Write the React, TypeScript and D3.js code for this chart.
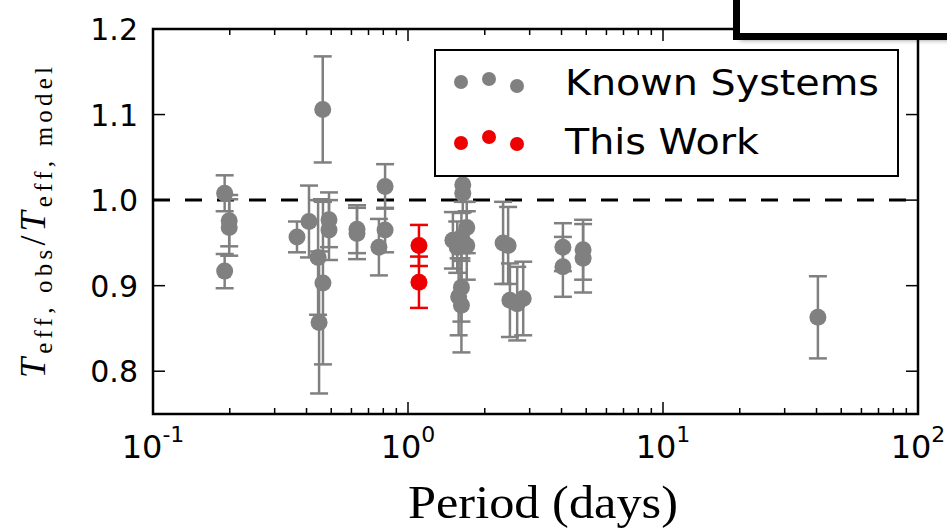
import React from "react";
import * as d3 from "d3";

const width = 947;
const height = 528;
const margin = { top: 29, right: 29, bottom: 114, left: 153 };

// known systems: period (days), ratio, error
const knownPeriod = [
  0.191, 0.199, 0.199, 0.191, 0.367, 0.409, 0.444, 0.448, 0.464, 0.463, 0.49, 0.49,
  0.631, 0.631, 0.769, 0.813, 0.813, 1.64, 1.64, 1.7, 1.5, 1.7, 1.56, 1.62, 1.62,
  1.58, 1.62, 2.36, 2.47, 2.51, 2.68, 2.83, 4.05, 4.05, 4.86, 4.86, 40.5,
];
const knownRatio = [
  1.008, 0.976, 0.968, 0.917, 0.957, 0.975, 0.933, 0.857, 0.903, 1.106, 0.977, 0.965,
  0.966, 0.961, 0.945, 0.965, 1.016, 1.018, 1.008, 0.968, 0.953, 0.947, 0.945, 0.957,
  0.898, 0.887, 0.877, 0.95, 0.947, 0.883, 0.879, 0.885, 0.945, 0.922, 0.942, 0.932,
  0.863,
];
const knownErr = [
  0.021, 0.03, 0.033, 0.02, 0.018, 0.042, 0.067, 0.083, 0.095, 0.062, 0.032, 0.035,
  0.028, 0.03, 0.033, 0.026, 0.026, 0.02, 0.022, 0.03, 0.033, 0.04, 0.03, 0.028,
  0.04, 0.045, 0.055, 0.048, 0.045, 0.043, 0.043, 0.043, 0.028, 0.035, 0.035, 0.04,
  0.048,
];

// this work
const workPeriod = [1.104, 1.104];
const workRatio = [0.947, 0.904];
const workErr = [0.024, 0.03];

const yTicks = [0.8, 0.9, 1.0, 1.1, 1.2];
const yTickLabels = ["0.8", "0.9", "1.0", "1.1", "1.2"];
const xTicks = [0.1, 1, 10, 100];
const xTickExp = ["-1", "0", "1", "2"];

const xScale = d3.scaleLog().domain([0.1, 100]).range([margin.left, width - margin.right]);
const yScale = d3.scaleLinear().domain([0.75, 1.2]).range([height - margin.bottom, margin.top]);

const gray = "#808080";
const red = "#ee0000";

const minorTicks: number[] = [];
[0.1, 1, 10].forEach((d) => {
  for (let k = 2; k < 10; k++) minorTicks.push(d * k);
});

function ErrPoints({ px, py, pe, color }: { px: number[]; py: number[]; pe: number[]; color: string }) {
  return (
    <g>
      {px.map((p, i) => {
        const x = xScale(p);
        const y0 = yScale(py[i] - pe[i]);
        const y1 = yScale(py[i] + pe[i]);
        return (
          <g key={"e" + i} stroke={color} strokeWidth={2.5}>
            <line x1={x} x2={x} y1={y0} y2={y1} />
            <line x1={x - 9} x2={x + 9} y1={y0} y2={y0} />
            <line x1={x - 9} x2={x + 9} y1={y1} y2={y1} />
          </g>
        );
      })}
      {px.map((p, i) => (
        <circle key={"c" + i} cx={xScale(p)} cy={yScale(py[i])} r={8.5} fill={color} />
      ))}
    </g>
  );
}

export default function App() {
  const x0 = margin.left;
  const x1 = width - margin.right;
  const y0 = height - margin.bottom;
  const y1 = margin.top;
  const legend = { x: 435, y: 50, w: 463, h: 126 };

  return (
    <svg width={width} height={height} style={{ position: "absolute", left: 0, top: 0, background: "#fff" }}>
      <defs>
        <filter id="blur" x="-10%" y="-10%" width="120%" height="140%">
          <feGaussianBlur stdDeviation={2.5} />
        </filter>
      </defs>
      <rect width={width} height={height} fill="#fff" />

      {/* dashed reference line */}
      <line x1={x0} x2={x1} y1={yScale(1)} y2={yScale(1)} stroke="#000" strokeWidth={3} strokeDasharray="17 15" />

      <ErrPoints px={knownPeriod} py={knownRatio} pe={knownErr} color={gray} />
      <ErrPoints px={workPeriod} py={workRatio} pe={workErr} color={red} />

      {/* ticks */}
      <g stroke="#000" strokeWidth={1.5}>
        {yTicks.map((t) => (
          <g key={"yt" + t}>
            <line x1={x0} x2={x0 + 12} y1={yScale(t)} y2={yScale(t)} />
            <line x1={x1} x2={x1 - 12} y1={yScale(t)} y2={yScale(t)} />
          </g>
        ))}
        {xTicks.map((t) => (
          <g key={"xt" + t}>
            <line x1={xScale(t)} x2={xScale(t)} y1={y0} y2={y0 - 12} />
            <line x1={xScale(t)} x2={xScale(t)} y1={y1} y2={y1 + 12} />
          </g>
        ))}
        {minorTicks.map((t) => (
          <g key={"mt" + t}>
            <line x1={xScale(t)} x2={xScale(t)} y1={y0} y2={y0 - 6} />
            <line x1={xScale(t)} x2={xScale(t)} y1={y1} y2={y1 + 6} />
          </g>
        ))}
      </g>
      <rect x={x0} y={y1} width={x1 - x0} height={y0 - y1} fill="none" stroke="#000" strokeWidth={2.5} />

      {/* tick labels */}
      <g fontFamily="DejaVu Sans" fontSize={30} fill="#000">
        {yTicks.map((t, i) => (
          <text key={"yl" + t} x={138} y={yScale(t) + 11} textAnchor="end">
            {yTickLabels[i]}
          </text>
        ))}
        {xTicks.map((t, i) => (
          <text key={"xl" + t} x={xScale(t)} y={458} textAnchor="middle" fontSize={32}>
            10<tspan dy={-16} fontSize={22}>{xTickExp[i]}</tspan>
          </text>
        ))}
      </g>

      {/* axis labels */}
      <text x={408} y={518} fontFamily="Liberation Serif" fontSize={46} textLength={270} lengthAdjust="spacingAndGlyphs">
        Period (days)
      </text>
      <text
        transform="translate(45,378) rotate(-90)"
        fontFamily="Liberation Serif"
        fontSize={36}
        fontWeight="normal"
        textLength={311}
        lengthAdjust="spacing"
      >
        <tspan fontStyle="italic">T</tspan>
        <tspan fontSize={25} dy={7}>eff, obs</tspan>
        <tspan dy={-7}>/</tspan>
        <tspan fontStyle="italic">T</tspan>
        <tspan fontSize={25} dy={7}>eff, model</tspan>
      </text>

      {/* legend */}
      <rect x={legend.x} y={legend.y} width={legend.w} height={legend.h} fill="#fff" stroke="#000" strokeWidth={2} />
      {[
        [461, 82],
        [489, 79],
        [517, 86],
      ].map(([cx, cy], i) => (
        <circle key={"lg" + i} cx={cx} cy={cy} r={7} fill={gray} />
      ))}
      {[
        [461, 143],
        [489, 137],
        [517, 144],
      ].map(([cx, cy], i) => (
        <circle key={"lr" + i} cx={cx} cy={cy} r={7} fill={red} />
      ))}
      <g fontFamily="DejaVu Sans" fontSize={36} fill="#000">
        <text x={565} y={95} textLength={314} lengthAdjust="spacingAndGlyphs">Known Systems</text>
        <text x={565} y={154} textLength={194} lengthAdjust="spacingAndGlyphs">This Work</text>
      </g>

      {/* overlapping panel at top right */}
      <rect x={740} y={-30} width={260} height={70} fill="#000" opacity={0.45} filter="url(#blur)" />
      <rect x={736.5} y={-20} width={260} height={56.5} fill="#fff" stroke="#000" strokeWidth={7} />
    </svg>
  );
}
